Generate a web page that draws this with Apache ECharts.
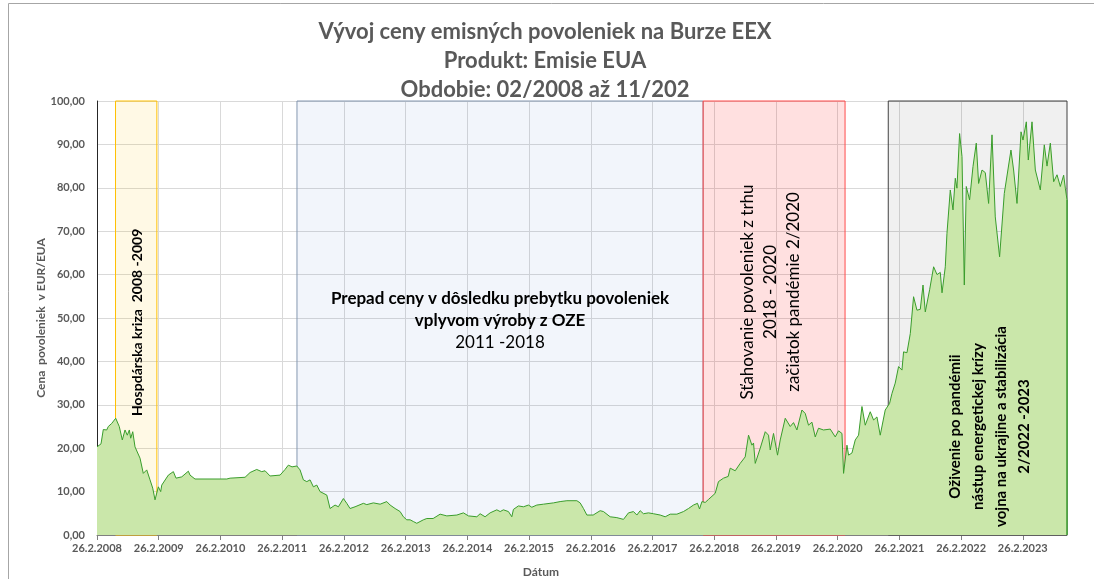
<!DOCTYPE html>
<html>
<head>
<meta charset="utf-8">
<script src="https://cdn.jsdelivr.net/npm/echarts@6/dist/echarts.min.js"></script>
<style>
  html, body { margin: 0; padding: 0; background: #fff; }
  #chart { width: 1094px; height: 579px; }
</style>
</head>
<body>
<div id="chart"></div>
<script>
// x = roky od 26.2.2008, y = cena EUA v EUR
const yearsFromStart = [
  0.000, 0.021, 0.065, 0.102, 0.157, 0.183, 0.238, 0.303, 0.361, 0.410,
  0.454, 0.491, 0.524, 0.546, 0.579, 0.616, 0.697, 0.750, 0.806, 0.859,
  0.903, 0.940, 0.994, 1.032, 1.049, 1.156, 1.183, 1.237, 1.280, 1.373,
  1.480, 1.507, 1.588, 1.831, 2.102, 2.156, 2.399, 2.480, 2.588, 2.669,
  2.723, 2.804, 2.966, 3.047, 3.100, 3.160, 3.237, 3.290, 3.344, 3.399,
  3.452, 3.506, 3.561, 3.614, 3.723, 3.776, 3.857, 3.911, 3.992, 4.047,
  4.100, 4.181, 4.316, 4.371, 4.478, 4.587, 4.695, 4.749, 4.830, 4.911,
  4.964, 5.019, 5.073, 5.126, 5.181, 5.288, 5.344, 5.446, 5.559, 5.668,
  5.830, 5.937, 6.018, 6.154, 6.207, 6.288, 6.369, 6.478, 6.532, 6.585,
  6.666, 6.721, 6.747, 6.828, 6.909, 6.990, 7.045, 7.126, 7.233, 7.395,
  7.504, 7.613, 7.775, 7.828, 7.882, 7.937, 8.039, 8.152, 8.206, 8.314,
  8.423, 8.530, 8.611, 8.692, 8.747, 8.801, 8.854, 8.935, 9.016, 9.125,
  9.206, 9.287, 9.395, 9.502, 9.583, 9.664, 9.729, 9.762, 9.801, 9.854,
  9.908, 9.935, 10.016, 10.069, 10.151, 10.227, 10.259, 10.340, 10.421, 10.502,
  10.556, 10.611, 10.637, 10.665, 10.746, 10.827, 10.880, 10.908, 10.961, 11.026,
  11.070, 11.151, 11.232, 11.285, 11.340, 11.421, 11.475, 11.528, 11.583, 11.637,
  11.690, 11.771, 11.880, 11.961, 12.015, 12.070, 12.096, 12.151, 12.177, 12.232,
  12.285, 12.339, 12.394, 12.447, 12.528, 12.582, 12.637, 12.690, 12.771, 12.841,
  12.880, 12.933, 12.987, 13.042, 13.068, 13.123, 13.177, 13.230, 13.285, 13.339,
  13.383, 13.420, 13.490, 13.555, 13.610, 13.663, 13.691, 13.744, 13.771, 13.825,
  13.869, 13.906, 13.933, 13.976, 14.015, 14.052, 14.084, 14.138, 14.193, 14.246,
  14.284, 14.339, 14.392, 14.446, 14.501, 14.554, 14.624, 14.700, 14.808, 14.851,
  14.906, 14.971, 15.003, 15.057, 15.089, 15.149, 15.203, 15.284, 15.348, 15.392,
  15.446, 15.500, 15.554, 15.608, 15.662, 15.689, 15.716
];
const prices = [
  20.3, 20.7, 21.0, 24.3, 24.2, 25.0, 25.7, 26.9, 25.0, 21.9,
  24.2, 23.0, 24.2, 22.3, 23.8, 20.3, 17.7, 14.2, 15.0, 12.7,
  10.8, 8.1, 11.1, 10.0, 11.5, 13.8, 13.4, 14.6, 13.1, 13.4,
  14.7, 13.8, 12.9, 12.9, 12.9, 13.1, 13.3, 14.4, 15.1, 14.6,
  14.8, 13.6, 13.8, 15.1, 16.1, 15.7, 15.9, 15.0, 12.7, 12.3,
  12.7, 11.1, 11.5, 10.0, 9.2, 6.1, 6.9, 6.5, 8.4, 7.3,
  6.1, 6.5, 7.3, 7.0, 7.4, 7.1, 7.7, 6.9, 6.1, 5.4,
  4.2, 3.5, 3.5, 3.1, 2.7, 3.5, 3.8, 3.8, 4.8, 4.4,
  4.6, 5.1, 4.4, 4.2, 4.9, 4.2, 5.1, 5.8, 5.4, 5.8,
  5.4, 4.2, 5.9, 6.7, 6.5, 6.9, 6.4, 6.9, 7.1, 7.4,
  7.7, 7.9, 7.9, 7.4, 6.1, 4.6, 4.6, 5.6, 5.4, 4.2,
  4.0, 3.6, 5.1, 5.4, 4.6, 5.6, 4.9, 5.1, 4.9, 4.6,
  4.2, 4.8, 4.8, 5.4, 6.1, 6.9, 7.3, 6.0, 7.7, 7.5,
  8.2, 8.5, 9.6, 12.3, 13.1, 13.5, 15.4, 14.8, 16.5, 18.0,
  23.0, 20.7, 21.2, 16.5, 20.0, 23.8, 23.0, 19.6, 23.4, 18.4,
  21.9, 26.9, 25.0, 25.9, 24.2, 28.8, 28.0, 25.3, 26.0, 22.6,
  24.6, 24.2, 24.4, 22.6, 24.0, 23.4, 14.2, 20.7, 18.4, 18.9,
  21.9, 23.0, 29.6, 25.3, 28.4, 26.5, 27.2, 23.0, 28.8, 30.3,
  32.6, 35.0, 38.8, 38.0, 42.2, 42.0, 46.4, 54.9, 51.8, 52.0,
  57.6, 51.4, 56.5, 61.8, 60.0, 60.5, 55.8, 61.8, 69.5, 79.5,
  74.9, 82.2, 79.9, 92.5, 87.2, 57.6, 80.3, 77.2, 84.9, 90.3,
  81.0, 84.1, 83.5, 76.4, 92.2, 73.3, 64.1, 78.7, 88.7, 84.1,
  76.4, 92.9, 91.0, 95.2, 86.4, 95.2, 84.1, 79.5, 89.9, 85.0,
  90.3, 81.4, 83.0, 80.3, 82.9, 79.9, 77.2
];
const tickYears = [0, 1, 2, 3, 4, 5, 6, 7, 8, 9, 10, 11, 12, 13, 14, 15];
const xEnd = 15.716;

// obdobia [od, do] v rokoch od 26.2.2008
const periodYellow = [0.30, 0.97];
const periodBlue = [3.24, 9.82];
const periodRed = [9.82, 12.12];
const periodGray = [12.82, xEnd];

const textHospodarska = 'Hospdárska kriza  2008 -2009';
const textPrepad = ['Prepad ceny v dôsledku prebytku povoleniek', 'vplyvom výroby z OZE', '2011 -2018'];
const textStahovanie = ['Sťahovanie povoleniek z trhu', '2018 - 2020', 'začiatok pandémie 2/2020'];
const textOzivenie = ['Oživenie po pandémii', 'nástup energetickej krízy', 'vojna na ukrajine a stabilizácia', '2/2022 -2023'];

const FONT = 'Lato, "Open Sans", sans-serif';
const GREY = '#595959';

const seriesData = yearsFromStart.map((x, i) => [x, prices[i]]);

const chart = echarts.init(document.getElementById('chart'));

const option = {
  backgroundColor: '#fff',
  animation: false,
  textStyle: { fontFamily: FONT },
  title: {
    text: 'Vývoj ceny emisných povoleniek na Burze EEX\nProdukt: Emisie EUA\nObdobie: 02/2008 až 11/202',
    left: 540,
    top: 12,
    textAlign: 'center',
    textStyle: {
      fontFamily: FONT,
      fontSize: 22,
      fontWeight: 'bold',
      color: GREY,
      lineHeight: 29
    }
  },
  grid: {
    left: 97,
    right: 1094 - 1067,
    top: 101,
    bottom: 579 - 535
  },
  xAxis: {
    type: 'value',
    min: 0,
    max: xEnd,
    interval: 1,
    axisLine: { lineStyle: { color: '#7f7f7f', width: 1 } },
    axisTick: { show: true, length: 5, customValues: tickYears, lineStyle: { color: '#7f7f7f' } },
    axisLabel: {
      customValues: tickYears,
      color: GREY,
      fontFamily: FONT,
      fontSize: 11,
      fontWeight: 'bold',
      margin: 8,
      formatter: v => '26.2.' + (2008 + Math.round(v))
    },
    splitLine: { show: true, lineStyle: { color: '#d9d9d9' } }
  },
  yAxis: {
    type: 'value',
    min: 0,
    max: 100,
    interval: 10,
    name: 'Cena  povoleniek  v EUR/EUA',
    nameLocation: 'middle',
    nameGap: 50,
    nameMoveOverlap: false,
    nameTextStyle: { color: GREY, fontFamily: FONT, fontSize: 12, fontWeight: 'bold' },
    axisLine: { show: true, lineStyle: { color: '#262626', width: 1 } },
    axisTick: { show: false },
    axisLabel: {
      color: GREY,
      fontFamily: FONT,
      fontSize: 11,
      fontWeight: 'bold',
      margin: 12,
      formatter: v => v.toFixed(2).replace('.', ',')
    },
    splitLine: { show: true, lineStyle: { color: '#d9d9d9' } }
  },
  series: [
    {
      name: 'EUA',
      type: 'line',
      z: 2,
      data: seriesData,
      showSymbol: false,
      lineStyle: { color: '#3a9d2c', width: 1 },
      areaStyle: { color: '#cae7aa', opacity: 1 }
    },
    {
      name: 'obdobia',
      type: 'line',
      z: 3,
      data: [],
      markArea: {
        silent: true,
        label: { show: false },
        data: [
          [{ xAxis: periodYellow[0], yAxis: 0, itemStyle: { color: 'rgba(255,192,0,0.10)', borderColor: '#ffc000', borderWidth: 1 } }, { xAxis: periodYellow[1], yAxis: 100 }],
          [{ xAxis: periodBlue[0], yAxis: 0, itemStyle: { color: 'rgba(68,114,196,0.07)', borderColor: '#8497b0', borderWidth: 1 } }, { xAxis: periodBlue[1], yAxis: 100 }],
          [{ xAxis: periodRed[0], yAxis: 0, itemStyle: { color: 'rgba(255,0,0,0.12)', borderColor: '#ff4b4b', borderWidth: 1 } }, { xAxis: periodRed[1], yAxis: 100 }],
          [{ xAxis: periodGray[0], yAxis: 0, itemStyle: { color: 'rgba(0,0,0,0.06)', borderColor: '#404040', borderWidth: 1 } }, { xAxis: periodGray[1], yAxis: 100 }]
        ]
      }
    }
  ]
};

chart.setOption(option);

// popisky obdobi - umiestnene v suradniciach grafu
const at = (x, y) => chart.convertToPixel({ gridIndex: 0 }, [x, y]);
const pHosp = at(0.648, 49);
const pPrepad = at(6.53, 49.5);
const pStah = at(10.91, 56);
const pOziv = at(14.47, 25);
const pEnd = at(xEnd, prices[prices.length - 1]);
const pEndBase = at(xEnd, 0);

chart.setOption({
  graphic: [
    {
      type: 'rect',
      silent: true,
      shape: { x: 8.5, y: 3.5, width: 1200, height: 700 },
      style: { fill: null, stroke: '#a6a6a6', lineWidth: 1 }
    },
    {
      // pravy okraj plochy
      type: 'line',
      silent: true,
      z: 5,
      shape: { x1: pEnd[0], y1: pEnd[1], x2: pEndBase[0], y2: pEndBase[1] },
      style: { stroke: '#3a9d2c', lineWidth: 1.5 }
    },
    {
      type: 'text',
      x: 541, y: 572,
      style: { text: 'Dátum', font: 'bold 12px ' + FONT, fill: GREY, align: 'center', verticalAlign: 'middle' }
    },
    {
      type: 'text',
      x: pHosp[0], y: pHosp[1],
      rotation: Math.PI / 2,
      z: 10,
      style: { text: textHospodarska, font: 'bold 14px ' + FONT, fill: '#000', align: 'center', verticalAlign: 'middle' }
    },
    {
      type: 'text',
      x: pPrepad[0], y: pPrepad[1],
      z: 10,
      style: {
        text: '{b|' + textPrepad[0] + '}\n{b|' + textPrepad[1] + '}\n{n|' + textPrepad[2] + '}',
        align: 'center', verticalAlign: 'middle',
        rich: {
          b: { font: 'bold 17px ' + FONT, fill: '#000', lineHeight: 22, align: 'center' },
          n: { font: '17px ' + FONT, fill: '#000', lineHeight: 22, align: 'center' }
        }
      }
    },
    {
      type: 'text',
      x: pStah[0], y: pStah[1],
      rotation: Math.PI / 2,
      z: 10,
      style: { text: textStahovanie.join('\n'), font: '17px ' + FONT, fill: '#000', align: 'center', verticalAlign: 'middle', lineHeight: 23 }
    },
    {
      type: 'text',
      x: pOziv[0], y: pOziv[1],
      rotation: Math.PI / 2,
      z: 10,
      style: { text: textOzivenie.join('\n'), font: 'bold 15px ' + FONT, fill: '#000', align: 'center', verticalAlign: 'middle', lineHeight: 23 }
    }
  ]
});
</script>
</body>
</html>
